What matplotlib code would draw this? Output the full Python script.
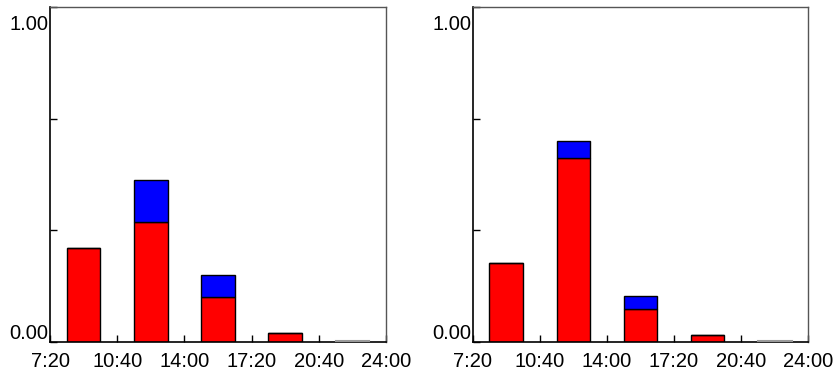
import numpy as np
import matplotlib
matplotlib.use('Agg')
import matplotlib.pyplot as plt

plt.rcParams['font.family'] = ['Liberation Sans', 'DejaVu Sans']

# bornes des intervalles horaires (en heures)
tick_labels = ['7:20', '10:40', '14:00', '17:20', '20:40', '24:00']
bornes = np.array([7 + 20/60, 10 + 40/60, 14.0, 17 + 20/60, 20 + 40/60, 24.0])

# valeurs
rouge_gauche = [0.280, 0.357, 0.133, 0.027, 0.0]
bleu_gauche = [0.002, 0.128, 0.067, 0.0, 0.0]
rouge_droite = [0.235, 0.548, 0.099, 0.020, 0.0]
bleu_droite = [0.0, 0.052, 0.038, 0.0, 0.0]

fig = plt.figure(figsize=(8.35, 3.73), dpi=100)
ax1 = fig.add_axes([0.0599, 0.0831, 0.4024, 0.898])
ax2 = fig.add_axes([0.5661, 0.0831, 0.4019, 0.898])


def panneau(ax, rouge, bleu):
    centres = (bornes[:-1] + bornes[1:]) / 2
    largeur = (bornes[1] - bornes[0]) / 2
    ax.bar(centres, rouge, width=largeur, color='#ff0000', edgecolor='black', linewidth=1.0)
    ax.bar(centres, bleu, bottom=rouge, width=largeur, color='#0000ff', edgecolor='black', linewidth=1.0)
    # dernier intervalle : barre vide, juste un trait gris
    ax.plot([centres[-1] - largeur/2, centres[-1] + largeur/2], [0.002, 0.002], color='#999999',
            lw=1.5, zorder=5, clip_on=False)
    ax.set_xlim(bornes[0], bornes[-1])
    ax.set_ylim(0, 1)
    ax.set_xticks(bornes)
    ax.set_xticklabels(tick_labels, fontsize=14.5)
    ax.set_yticks([0, 1/3, 2/3, 1])
    ax.set_yticklabels([])
    ax.tick_params(direction='in', length=5, width=1, color='black', pad=7)
    for cote in ['left', 'bottom']:
        ax.spines[cote].set_color('black')
        ax.spines[cote].set_linewidth(1.2)
    for cote in ['top', 'right']:
        ax.spines[cote].set_color('#555555')
        ax.spines[cote].set_linewidth(1.0)
    tr = ax.get_yaxis_transform()
    ax.text(-0.004, -0.004, '0.00', transform=tr, ha='right', va='bottom', fontsize=14.5)
    ax.text(-0.004, 0.975, '1.00', transform=tr, ha='right', va='top', fontsize=14.5)


panneau(ax1, rouge_gauche, bleu_gauche)
panneau(ax2, rouge_droite, bleu_droite)

fig.savefig('out.png', dpi=100)
